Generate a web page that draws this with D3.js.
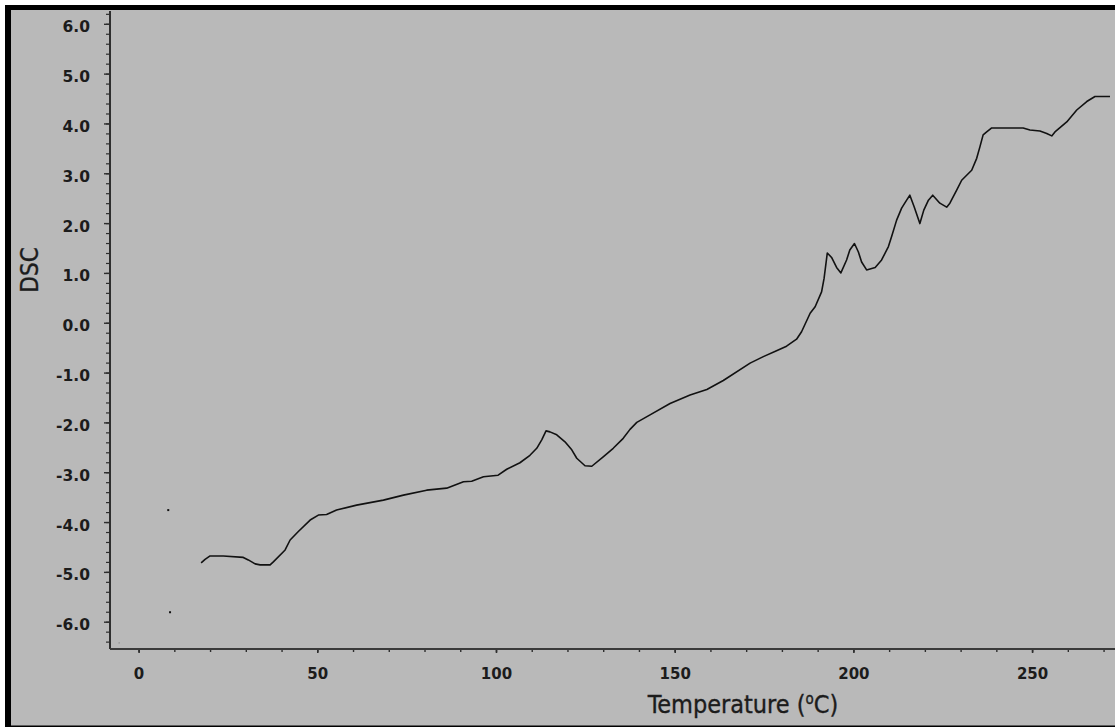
<!DOCTYPE html>
<html>
<head>
<meta charset="utf-8">
<script src="https://cdn.jsdelivr.net/npm/d3@7"></script>
<style>
  html, body { margin: 0; padding: 0; background: #ffffff; }
  svg { display: block; }
</style>
</head>
<body>
<svg id="chart" width="1115" height="727"></svg>
<script>
// DSC trace: temperature (°C) and heat-flow signal
const temperature = [
  17.5, 18.6, 20.0, 23.7, 29.3, 30.7, 32.6, 34.0, 36.8, 37.7,
  41.0, 42.4, 44.7, 48.0, 50.3, 52.6, 55.4, 61.0, 68.5, 74.1,
  80.6, 86.2, 90.9, 93.2, 96.5, 100.6, 103.0, 106.7, 109.5, 111.4,
  112.8, 114.0, 115.1, 117.0, 119.3, 121.2, 122.6, 124.9, 126.8, 130.0,
  132.8, 135.6, 137.5, 139.4, 143.1, 148.7, 154.3, 159.0, 163.6, 171.1,
  174.8, 178.5, 181.3, 184.1, 185.5, 187.9, 189.3, 191.1, 191.8, 192.7,
  193.9, 195.3, 196.5, 198.1, 199.0, 200.3, 201.4, 202.3, 203.7, 206.1,
  207.9, 209.8, 210.7, 212.1, 213.5, 214.9, 215.8, 217.0, 218.6, 219.7,
  221.0, 222.2, 224.2, 226.1, 227.0, 228.9, 230.3, 233.1, 234.5, 235.4,
  236.3, 237.3, 238.7, 247.5, 249.4, 252.2, 254.1, 255.5, 256.4, 259.7,
  262.5, 265.3, 267.6, 271.8
];
const dsc = [
  -4.82, -4.75, -4.68, -4.68, -4.71, -4.76, -4.84, -4.86, -4.86, -4.80,
  -4.56, -4.36, -4.19, -3.96, -3.86, -3.85, -3.76, -3.66, -3.56, -3.46,
  -3.36, -3.32, -3.19, -3.18, -3.09, -3.06, -2.94, -2.81, -2.66, -2.52,
  -2.35, -2.17, -2.19, -2.25, -2.39, -2.55, -2.72, -2.87, -2.88, -2.69,
  -2.52, -2.32, -2.14, -2.00, -1.85, -1.62, -1.45, -1.34, -1.16, -0.81,
  -0.68, -0.56, -0.47, -0.33, -0.18, 0.19, 0.32, 0.62, 0.89, 1.40,
  1.31, 1.11, 1.00, 1.26, 1.46, 1.59, 1.42, 1.22, 1.06, 1.11,
  1.26, 1.53, 1.73, 2.06, 2.30, 2.46, 2.56, 2.33, 1.99, 2.26,
  2.46, 2.56, 2.40, 2.32, 2.40, 2.66, 2.86, 3.06, 3.30, 3.53,
  3.77, 3.83, 3.91, 3.91, 3.87, 3.85, 3.80, 3.75, 3.83, 4.03,
  4.27, 4.44, 4.54, 4.54
];

// isolated samples recorded before the trace starts
const strayTemperature = [8.3, 8.8];
const strayDsc = [-3.76, -5.81];
const faintTemperature = [-5.5];
const faintDsc = [-6.42];

// axis ticks
const xMajorTicks = [0, 50, 100, 150, 200, 250];
const xMinorTicks = d3.range(0, 271, 10);
const yMajorTicks = [-6, -5, -4, -3, -2, -1, 0, 1, 2, 3, 4, 5, 6];
const yMinorTicks = d3.range(-32, 32).map(i => i * 0.2);

const xTitle = "Temperature (";
const xTitleSup = "o";
const xTitleEnd = "C)";
const yTitle = "DSC";

const W = 1115, H = 727;
const plot = { left: 110, right: 1115, top: 10, bottom: 649 };

const svg = d3.select("#chart");

// frame: white margin, heavy black border, grey panel
svg.append("rect").attr("x", 0).attr("y", 0).attr("width", W).attr("height", H).attr("fill", "#ffffff");
svg.append("rect").attr("x", 5).attr("y", 5).attr("width", W).attr("height", H).attr("fill", "#000000");
svg.append("rect").attr("x", 11).attr("y", 10).attr("width", W).attr("height", 715.5).attr("fill", "#b9b9b9");

const x = d3.scaleLinear().domain([-8, 273.2]).range([plot.left, plot.right]);
const y = d3.scaleLinear().domain([-6.548, 6.277]).range([plot.bottom, plot.top]);

const axisColor = "#2e2e2e";
const textColor = "#1c1c1c";
const fontTicks = "'DejaVu Sans', Verdana, sans-serif";
const fontTitle = "'DejaVu Sans Condensed', 'DejaVu Sans', sans-serif";

// y axis minor ticks
const yMinor = svg.append("g").attr("transform", `translate(${plot.left},0)`)
  .call(d3.axisLeft(y).tickValues(yMinorTicks).tickSize(4).tickFormat(""));
yMinor.select(".domain").remove();
yMinor.selectAll("line").attr("stroke", axisColor).attr("stroke-width", 1.2);

// y axis major ticks and labels
const yMajor = svg.append("g").attr("transform", `translate(${plot.left},0)`)
  .call(d3.axisLeft(y).tickValues(yMajorTicks).tickSize(6).tickPadding(14)
    .tickFormat(v => v.toFixed(1)));
yMajor.select(".domain").remove();
yMajor.selectAll("line").attr("stroke", axisColor).attr("stroke-width", 1.4);
yMajor.selectAll("text")
  .attr("fill", textColor)
  .attr("dy", "8px")
  .style("font-family", fontTicks)
  .style("font-weight", "bold")
  .style("font-size", "15.5px");

// x axis minor ticks
const xMinor = svg.append("g").attr("transform", `translate(0,${plot.bottom})`)
  .call(d3.axisBottom(x).tickValues(xMinorTicks).tickSize(3).tickFormat(""));
xMinor.select(".domain").remove();
xMinor.selectAll("line").attr("stroke", axisColor).attr("stroke-width", 1.4);

// x axis major ticks and labels
const xMajor = svg.append("g").attr("transform", `translate(0,${plot.bottom})`)
  .call(d3.axisBottom(x).tickValues(xMajorTicks).tickSize(4).tickFormat(d3.format("d")));
xMajor.select(".domain").remove();
xMajor.selectAll("line").attr("stroke", axisColor).attr("stroke-width", 1.6);
xMajor.selectAll("text")
  .attr("y", 30)
  .attr("dy", 0)
  .attr("fill", textColor)
  .style("font-family", fontTicks)
  .style("font-weight", "bold")
  .style("font-size", "15px");

// axis lines
svg.append("line")
  .attr("x1", plot.left).attr("x2", plot.left)
  .attr("y1", plot.top + 1).attr("y2", plot.bottom)
  .attr("stroke", axisColor).attr("stroke-width", 2);
svg.append("line")
  .attr("x1", plot.left).attr("x2", plot.right)
  .attr("y1", plot.bottom).attr("y2", plot.bottom)
  .attr("stroke", "#3a3a3a").attr("stroke-width", 2);

// DSC curve
const pts = temperature.map((t, i) => [t, dsc[i]]);
const line = d3.line().x(d => x(d[0])).y(d => y(d[1]));
svg.append("path")
  .datum(pts)
  .attr("d", line)
  .attr("fill", "none")
  .attr("stroke", "#111111")
  .attr("stroke-width", 1.6)
  .attr("stroke-linejoin", "round");

// isolated samples
svg.append("g").selectAll("rect")
  .data(strayTemperature.map((t, i) => [t, strayDsc[i]]))
  .join("rect")
  .attr("x", d => x(d[0]) - 1).attr("y", d => y(d[1]) - 1)
  .attr("width", 2).attr("height", 2)
  .attr("fill", "#111111");
svg.append("g").selectAll("rect")
  .data(faintTemperature.map((t, i) => [t, faintDsc[i]]))
  .join("rect")
  .attr("x", d => x(d[0]) - 0.5).attr("y", d => y(d[1]) - 0.5)
  .attr("width", 1.5).attr("height", 1.5)
  .attr("fill", "#9a9a9a");

// axis titles
const xt = svg.append("text")
  .attr("x", 743).attr("y", 713)
  .attr("text-anchor", "middle")
  .attr("fill", textColor)
  .attr("stroke", textColor)
  .attr("stroke-width", 0.35)
  .style("font-family", fontTitle)
  .style("font-size", "25px");
xt.append("tspan").text(xTitle);
xt.append("tspan").attr("dy", -9).style("font-size", "15px").text(xTitleSup);
xt.append("tspan").attr("dy", 9).text(xTitleEnd);

svg.append("text")
  .attr("transform", "translate(38,270) rotate(-90)")
  .attr("text-anchor", "middle")
  .attr("fill", textColor)
  .attr("stroke", textColor)
  .attr("stroke-width", 0.35)
  .style("font-family", fontTitle)
  .style("font-size", "24px")
  .text(yTitle);
</script>
</body>
</html>
